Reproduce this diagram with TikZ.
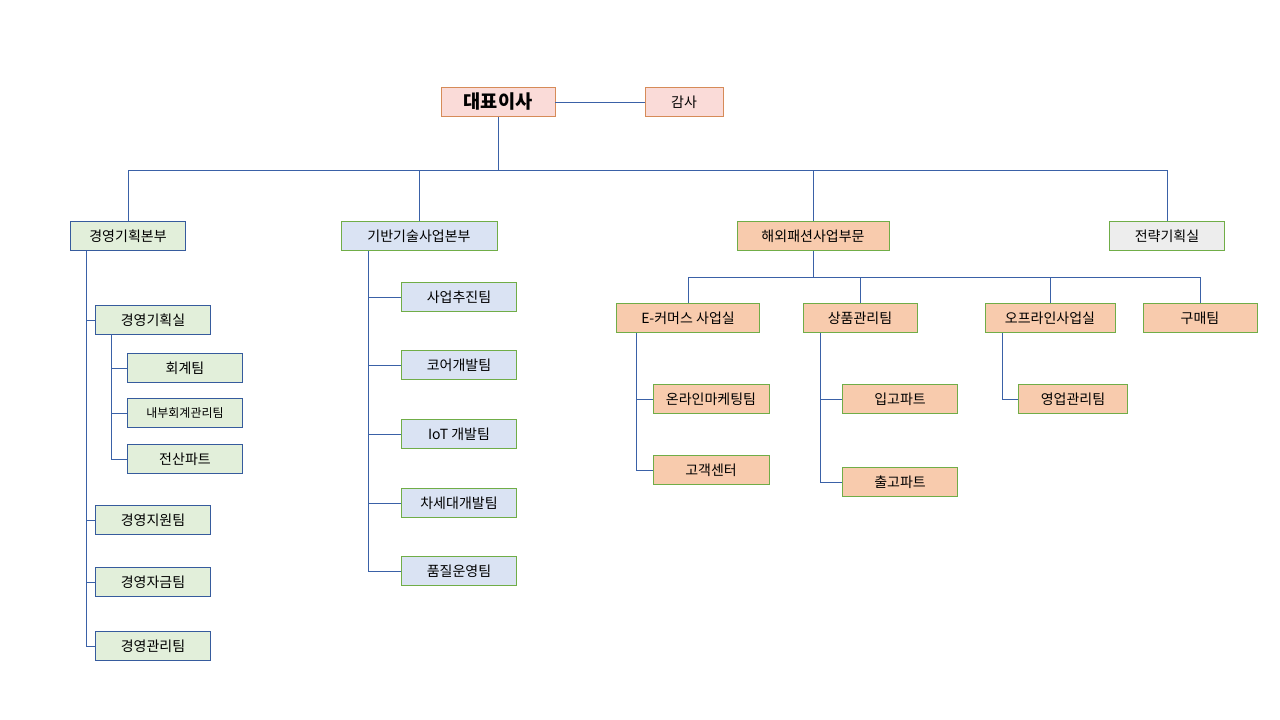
\documentclass[tikz,border=0pt]{standalone}
\usepackage{fontspec}
\setmainfont{Noto Sans CJK KR}
\usepackage{tikz}
\usetikzlibrary{positioning}
\definecolor{gfill}{HTML}{E2EFDA}
\definecolor{bfill}{HTML}{DAE3F3}
\definecolor{ofill}{HTML}{F8CBAD}
\definecolor{pfill}{HTML}{FADBD8}
\definecolor{yfill}{HTML}{EDEDED}
\definecolor{bline}{HTML}{4472C4}
\definecolor{gline}{HTML}{70AD47}
\definecolor{rline}{HTML}{C55A11}
\tikzset{
  unit/.style={draw, line width=0.6pt, inner sep=0pt, minimum height=29*0.75pt, font=\fontsize{10.5}{12}\selectfont},
  wide/.style={minimum width=#1*0.75pt},
  gunit/.style={unit, fill=gfill, draw=bline!80!black},
  bunit/.style={unit, fill=bfill, draw=gline},
  ounit/.style={unit, fill=ofill, draw=gline},
  punit/.style={unit, fill=pfill, draw=rline!70},
  yunit/.style={unit, fill=yfill, draw=gline},
  link/.style={draw=bline!85!black, line width=0.7pt}
}
\begin{document}
\begin{tikzpicture}[x=0.75pt, y=-0.75pt]
		\useasboundingbox (0,0) rectangle (1280,720);
		
		\node [punit, wide=114, font=\fontsize{14}{16}\selectfont\bfseries] (ceo) at (498,102) {대표이사};
		\node [punit, wide=78] (audit) at (684,102) {감사};
		
		\node [gunit, wide=115] (div-1) at (128,236) {경영기획본부};
		\node [bunit, wide=156] (div-2) at (419,236) {기반기술사업본부};
		\node [ounit, wide=152] (div-3) at (813,236) {해외패션사업부문};
		\node [yunit, wide=115] (div-4) at (1167,236) {전략기획실};
		
		\draw [link] (ceo) -- (audit);
		\coordinate (bus) at (498,170);
		\draw [link] (ceo.south) -- (bus);
		\foreach \i in {1,...,4}
		\draw [link] (bus) -| (div-\i.north);
		
		% left
		\node [gunit, wide=115] (plan) at (153,320) {경영기획실};
		\foreach \t/\y [count=\i] in {회계팀/368, 내부회계관리팀/413, 전산파트/459}
		\node [gunit, wide=115, font=\fontsize{\ifnum\i=2 9\else 10.5\fi}{12}\selectfont] (plan-\i) at (185,\y) {\t};
		\foreach \t/\y [count=\i] in {경영지원팀/520, 경영자금팀/582, 경영관리팀/646}
		\node [gunit, wide=115] (mgmt-\i) at (153,\y) {\t};
		
		\coordinate (ltop) at (86,251);
		\coordinate (ptop) at (111,334);
		\draw [link] (ltop) |- (plan.west);
		\foreach \i in {1,...,3} {
			\draw [link] (ltop) |- (mgmt-\i.west);
			\draw [link] (ptop) |- (plan-\i.west);
		}
		
		% middle
		\foreach \t/\y [count=\i] in {사업추진팀/297, 코어개발팀/365, IoT 개발팀/434, 차세대개발팀/503, 품질운영팀/571}
		\node [bunit, wide=115] (tech-\i) at (459,\y) {\t};
		\coordinate (mtop) at (368,251);
		\foreach \i in {1,...,5}
		\draw [link] (mtop) |- (tech-\i.west);
		
		% right
		\foreach \t/\x/\w [count=\i] in {E-커머스 사업실/688/143, 상품관리팀/860/114, 오프라인사업실/1050/130, 구매팀/1200/114}
		\node [ounit, wide=\w] (fash-\i) at (\x,318) {\t};
		\coordinate (rbus) at (813,277);
		\draw [link] (div-3.south) -- (rbus);
		\foreach \i in {1,...,4}
		\draw [link] (rbus) -| (fash-\i.north);
		
		\node [ounit, wide=116] (ecom-1) at (711,399) {온라인마케팅팀};
		\node [ounit, wide=116] (ecom-2) at (711,470) {고객센터};
		\node [ounit, wide=115] (item-1) at (900,399) {입고파트};
		\node [ounit, wide=115] (item-2) at (900,482) {출고파트};
		\node [ounit, wide=109] (off-1) at (1073,399) {영업관리팀};
		
		\coordinate (etop) at (636,333);
		\coordinate (itop) at (820,333);
		\coordinate (otop) at (1002,333);
		\foreach \i in {1,2} {
			\draw [link] (etop) |- (ecom-\i.west);
			\draw [link] (itop) |- (item-\i.west);
		}
		\draw [link] (otop) |- (off-1.west);
		
	\end{tikzpicture}
\end{document}
